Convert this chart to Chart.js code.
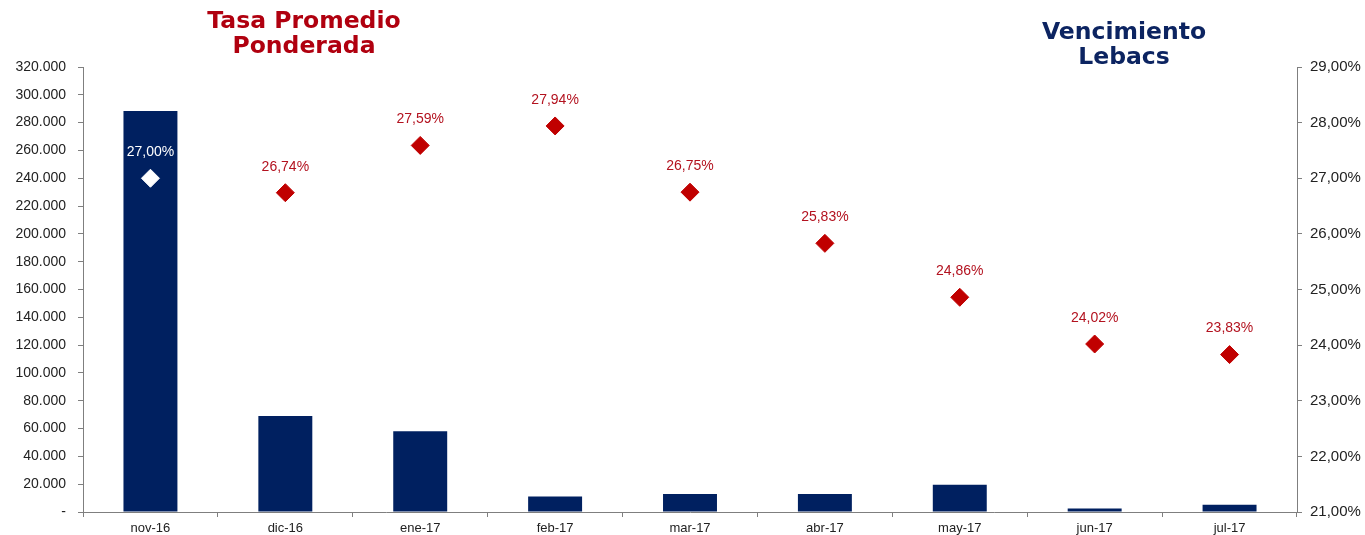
<!DOCTYPE html>
<html>
<head>
<meta charset="utf-8">
<script src="https://cdn.jsdelivr.net/npm/chart.js@4.4.1/dist/chart.umd.min.js"></script>
<style>
  html, body { margin: 0; padding: 0; background: #fff; overflow: hidden; }
  #wrap { position: relative; width: 1365px; height: 535px; }
  #chart { display: block; }
  .title {
    position: absolute;
    font-family: "DejaVu Sans", Verdana, sans-serif;
    font-weight: bold;
    font-size: 23.5px;
    line-height: 25px;
    text-align: center;
  }
  #t1 { left: 164px; top: 8px; width: 280px; color: #b0000f; }
  #t2 { left: 1004px; top: 19px; width: 240px; color: #0c2461; }
</style>
</head>
<body>
<div id="wrap">
  <canvas id="chart" width="1365" height="535"></canvas>
  <div class="title" id="t1">Tasa Promedio<br>Ponderada</div>
  <div class="title" id="t2">Vencimiento<br>Lebacs</div>
</div>
<script>
// Categories (months)
const months = ["nov-16", "dic-16", "ene-17", "feb-17", "mar-17", "abr-17", "may-17", "jun-17", "jul-17"];
// Lebacs maturities (millions)
const vencimientos = [288300, 69000, 58000, 11200, 13000, 13000, 19600, 2600, 5200];
// Weighted average rate (%)
const tasas = [27.00, 26.74, 27.59, 27.94, 26.75, 25.83, 24.86, 24.02, 23.83];

const navy = "#002060";
const red = "#c00000";
const axisColor = "#7f7f7f";
const labelFont = "'Liberation Sans', Arial, sans-serif";

// first point is white (it sits on the bar)
const pointColors = tasas.map((v, i) => (i === 0 ? "#ffffff" : red));

function fmtMiles(v) {
  if (v === 0) return "-";
  return v.toLocaleString("de-DE");
}
function fmtPct(v) {
  return v.toFixed(2).replace(".", ",") + "%";
}

// value labels above the diamonds
const pointLabels = {
  id: "pointLabels",
  afterDatasetsDraw(chart) {
    const ctx = chart.ctx;
    const meta = chart.getDatasetMeta(1);
    ctx.save();
    ctx.font = "14px " + labelFont;
    ctx.textAlign = "center";
    ctx.textBaseline = "middle";
    meta.data.forEach((pt, i) => {
      ctx.fillStyle = i === 0 ? "#ffffff" : "#b3121f";
      ctx.fillText(fmtPct(tasas[i]), pt.x, pt.y - 26);
    });
    ctx.restore();
  },
};

// fixed axis widths, no extra label padding above/below the plot
function fixVertical(width) {
  return (scale) => {
    scale.width = width;
    scale.paddingTop = 0;
    scale.paddingBottom = 0;
  };
}

new Chart(document.getElementById("chart").getContext("2d"), {
  data: {
    labels: months,
    datasets: [
      {
        type: "bar",
        label: "Vencimiento Lebacs",
        data: vencimientos,
        backgroundColor: navy,
        categoryPercentage: 1,
        barPercentage: 0.4,
        yAxisID: "y",
        order: 2,
      },
      {
        type: "line",
        label: "Tasa Promedio Ponderada",
        data: tasas,
        showLine: false,
        pointStyle: "rectRot",
        pointRadius: 9,
        pointHoverRadius: 9,
        pointBackgroundColor: pointColors,
        pointBorderColor: pointColors,
        pointBorderWidth: 1,
        yAxisID: "y1",
        order: 1,
      },
    ],
  },
  options: {
    responsive: false,
    animation: false,
    layout: { padding: { top: 67, left: 0, right: 0, bottom: 0 } },
    plugins: {
      legend: { display: false },
      tooltip: { enabled: false },
    },
    scales: {
      x: {
        offset: true,
        border: { display: true, color: axisColor },
        grid: {
          display: true,
          offset: true,
          drawOnChartArea: false,
          tickLength: 5,
          color: axisColor,
        },
        ticks: {
          color: "#222",
          font: { family: labelFont, size: 13 },
          padding: 4,
          maxRotation: 0,
        },
        afterFit(scale) {
          scale.height = 23;
          scale.paddingLeft = 0;
          scale.paddingRight = 0;
        },
      },
      y: {
        position: "left",
        min: 0,
        max: 320000,
        border: { display: true, color: axisColor },
        grid: {
          display: true,
          drawOnChartArea: false,
          tickLength: 5,
          color: axisColor,
        },
        ticks: {
          stepSize: 20000,
          color: "#222",
          font: { family: labelFont, size: 14 },
          padding: 12,
          callback: (v) => fmtMiles(v),
        },
        afterFit: fixVertical(83),
      },
      y1: {
        position: "right",
        min: 21,
        max: 29,
        border: { display: true, color: axisColor },
        grid: {
          display: true,
          drawOnChartArea: false,
          tickLength: 5,
          color: axisColor,
        },
        ticks: {
          stepSize: 1,
          color: "#222",
          font: { family: labelFont, size: 15 },
          padding: 8,
          callback: (v) => fmtPct(v),
        },
        afterFit: fixVertical(68),
      },
    },
  },
  plugins: [pointLabels],
});
</script>
</body>
</html>
